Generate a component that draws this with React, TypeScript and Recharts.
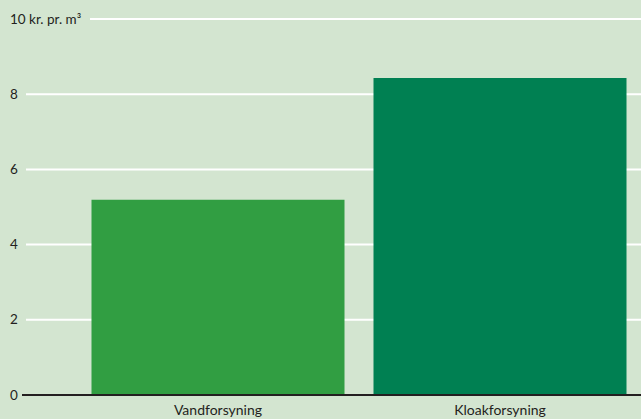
import { BarChart, Bar, XAxis, YAxis, CartesianGrid, ReferenceLine, Cell } from 'recharts'

// data
const categories = ['Vandforsyning', 'Kloakforsyning']
const prices = [5.19, 8.43]
const barColors = ['#319e42', '#008052']
const yTicks = [0, 2, 4, 6, 8, 10]

const BG = '#d3e5d0'
const INK = '#231f20'
const FONT = 'Lato, "Open Sans", sans-serif'

const rows = categories.map((name, i) => ({ name, value: prices[i] }))

function YTick({ y, payload }: any) {
  const isTop = payload.value === 10
  return (
    <g>
      {isTop && <rect x={6} y={y - 10} width={84} height={20} fill={BG} />}
      <text x={10} y={y} dy={4.5} fontSize={13.5} fill={INK} fontFamily={FONT} textAnchor="start">
        {isTop ? '10 kr. pr. m³' : payload.value}
      </text>
    </g>
  )
}

function AxisLine(p: any) {
  return <line x1={p.x1 - 4} y1={p.y1} x2={p.x2} y2={p.y2} stroke={INK} strokeWidth={2} />
}

export default function App() {
  return (
    <div style={{ position: 'absolute', left: 0, top: 0, width: 641, height: 419, background: BG }}>
      <BarChart
        width={641}
        height={419}
        data={rows}
        margin={{ top: 19, right: 0, bottom: 0, left: 0 }}
        barCategoryGap={14.5}
      >
        <CartesianGrid vertical={false} stroke="#ffffff" strokeWidth={2} />
        <XAxis
          dataKey="name"
          axisLine={false}
          tickLine={false}
          height={24}
          padding={{ left: 51, right: 0 }}
          tick={{ fontSize: 14, fill: INK, fontFamily: FONT }}
          dy={2}
        />
        <YAxis
          width={26}
          domain={[0, 10]}
          ticks={yTicks}
          axisLine={false}
          tickLine={false}
          tick={<YTick />}
        />
        <Bar dataKey="value" isAnimationActive={false}>
          {rows.map((r, i) => (
            <Cell key={r.name} fill={barColors[i]} />
          ))}
        </Bar>
        <ReferenceLine y={0} shape={<AxisLine />} />
      </BarChart>
    </div>
  )
}
